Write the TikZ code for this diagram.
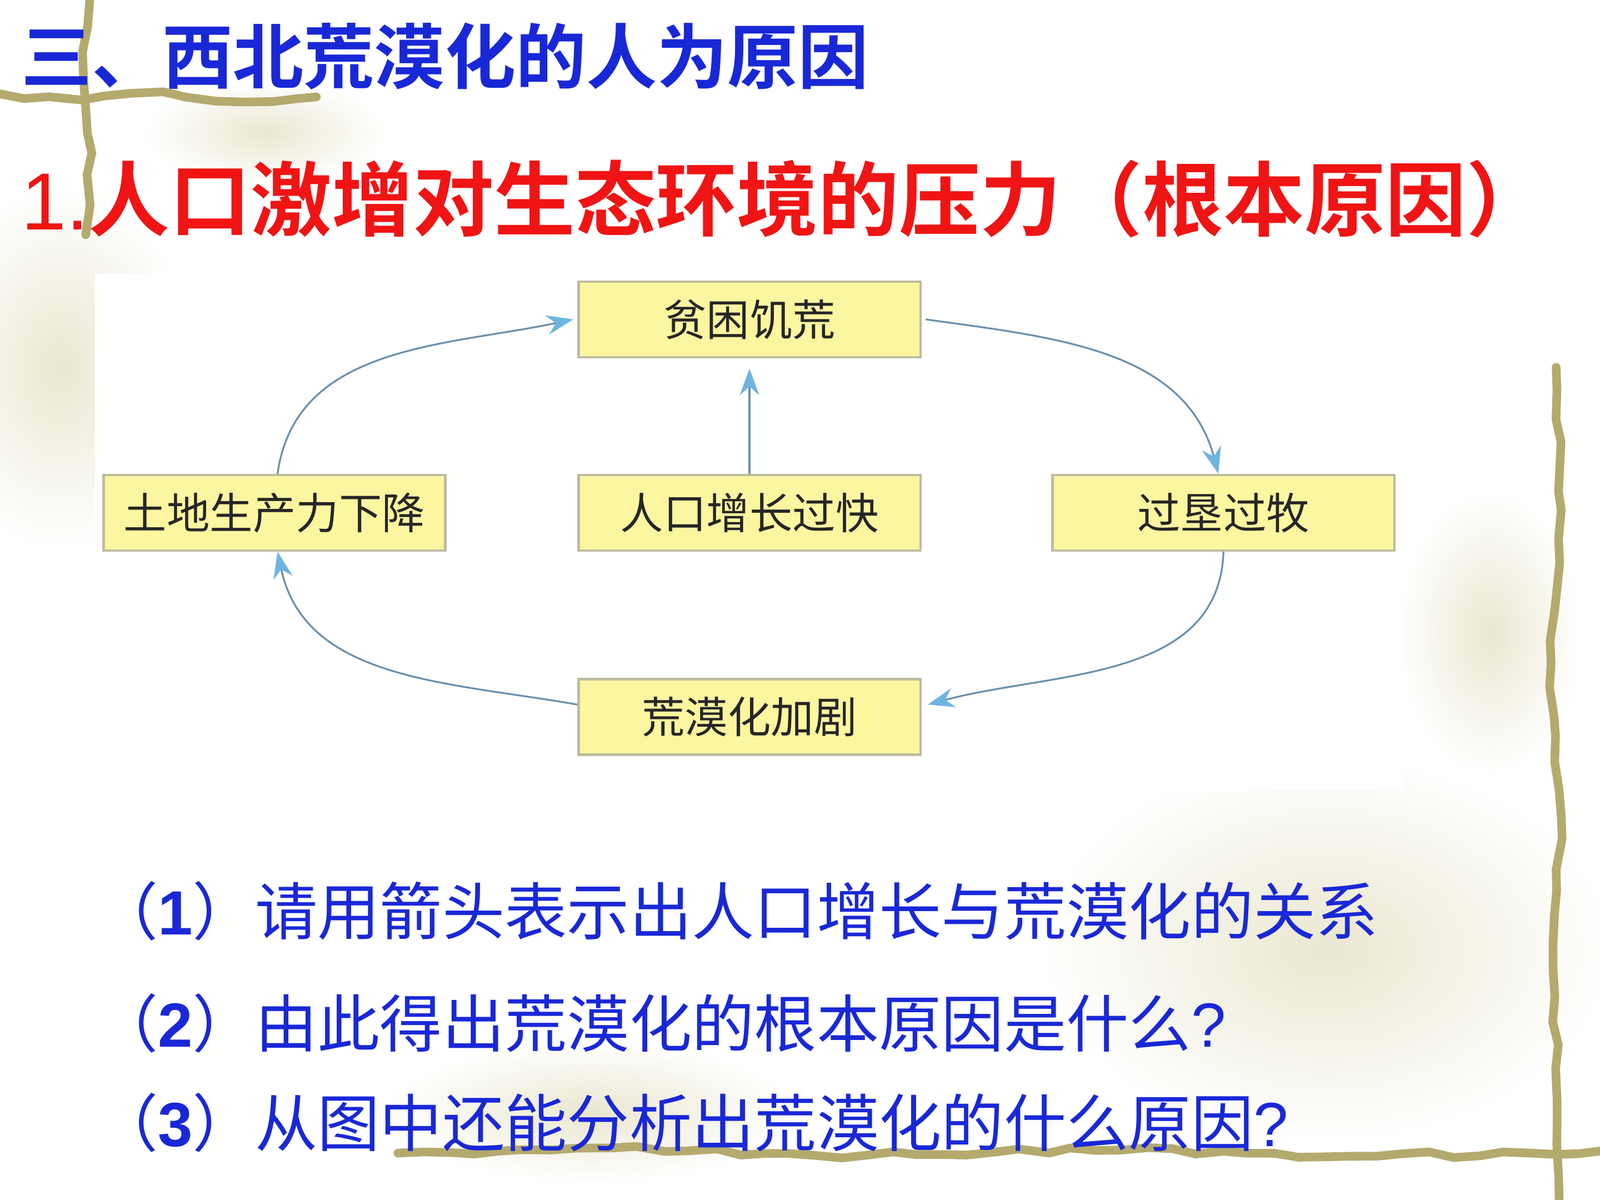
\documentclass[tikz,border=0pt]{standalone}
\usepackage{fontspec}
\setmainfont{Noto Sans CJK SC}[BoldFont={Noto Sans CJK SC Bold}]
\newfontfamily\latinfont{Liberation Sans}
\usetikzlibrary{arrows.meta,decorations.pathmorphing}

\definecolor{titleblue}{RGB}{25,40,215}
\definecolor{titlered}{RGB}{240,20,20}
\definecolor{boxfill}{RGB}{252,246,160}
\definecolor{boxline}{RGB}{190,188,160}
\definecolor{arrowline}{RGB}{105,145,175}
\definecolor{arrowtip}{RGB}{110,180,225}
\definecolor{vine}{RGB}{180,170,110}
\definecolor{haze}{RGB}{234,231,208}

\begin{document}
\begin{tikzpicture}[
    stage/.style={draw=boxline, line width=0.7pt, fill=boxfill, minimum width=3.35cm,
                  minimum height=0.74cm, inner sep=0pt, text=black!85,
                  font=\fontsize{12}{14}\selectfont},
    flow/.style={-{Stealth[length=2.6mm,width=1.9mm,color=arrowtip]}, draw=arrowline,
                 line width=0.5pt},
    heading/.style={anchor=west, inner sep=0pt, font=\bfseries},
    question/.style={anchor=west, inner sep=0pt, text=titleblue,
                     font=\fontsize{17.4}{20}\selectfont},
    vinepath/.style={draw=vine, line width=0.85mm, line cap=round, decorate,
                     decoration={random steps, segment length=2.5mm, amplitude=0.35mm}},
  ]
    % Background -------------------------------------------------------------
    \useasboundingbox (0,0) rectangle (15.68,-11.76);
    \fill[white] (0,0) rectangle (15.68,-11.76);
    \shade[inner color=haze, outer color=white] (0.6,-3.6) ellipse (1.3 and 1.8);
    \shade[inner color=haze, outer color=white] (2.6,-1.3) ellipse (1.2 and 0.5);
    \shade[inner color=haze, outer color=white] (13.0,-9.3) ellipse (2.8 and 1.9);
    \shade[inner color=haze, outer color=white] (14.6,-6.2) ellipse (0.9 and 1.4);
    \shade[inner color=haze, outer color=white] (5.8,-10.9) ellipse (2.0 and 0.7);

    % Vine frame -------------------------------------------------------------
    \draw[vinepath] (0,-0.92) -- (0.8,-0.98) -- (1.6,-0.9) -- (2.4,-1.0) -- (3.1,-0.95);
    \draw[vinepath] (0.88,0) -- (0.82,-0.8) -- (0.9,-1.5) -- (0.84,-2.3);
    \draw[vinepath] (15.25,-3.6) -- (15.3,-5.0) -- (15.2,-6.5) -- (15.3,-8.0)
                    -- (15.22,-9.5) -- (15.28,-11.76);
    \draw[vinepath] (3.9,-11.3) -- (6.0,-11.25) -- (8.5,-11.32) -- (11.0,-11.27)
                    -- (13.5,-11.33) -- (15.68,-11.28);

    % Diagram panel ----------------------------------------------------------
    \fill[white] (0.93,-2.68) rectangle (13.75,-7.75);

    % Titles -----------------------------------------------------------------
    \node[heading, text=titleblue, font=\bfseries\fontsize{19.7}{22}\selectfont]
         (title) at (0.2,-0.55) {三、西北荒漠化的人为原因};
    \node[heading, text=titlered, font=\bfseries\fontsize{22.6}{25}\selectfont]
         (cause) at (0.2,-1.95) {{\latinfont\mdseries 1.}人口激增对生态环境的压力（根本原因）};

    % Stages -----------------------------------------------------------------
    \node[stage] (poverty)    at (7.345,-3.13)  {贫困饥荒};
    \node[stage] (land)       at (2.69,-5.025)  {土地生产力下降};
    \node[stage] (population) at (7.345,-5.025) {人口增长过快};
    \node[stage] (overuse)    at (11.99,-5.025) {过垦过牧};
    \node[stage] (desert)     at (7.345,-7.025) {荒漠化加剧};

    % Arrows -----------------------------------------------------------------
    \draw[flow] ([xshift=0.03cm]land.north) to[out=82, in=192] ([xshift=-0.04cm]poverty.west);
    \draw[flow] ([xshift=0.04cm]poverty.east) to[out=-8, in=105] ([xshift=-0.05cm]overuse.north);
    \draw[flow] (overuse.south) to[out=-92, in=15] ([xshift=0.06cm,yshift=0.12cm]desert.east);
    \draw[flow] ([yshift=0.12cm]desert.west) to[out=170, in=-78] ([xshift=0.03cm]land.south);
    \draw[flow] (population.north) -- ([yshift=-0.1cm]poverty.south);

    % Questions --------------------------------------------------------------
    \node[question] (q1) at (0.93,-8.93)  {（{\latinfont\bfseries 1}）请用箭头表示出人口增长与荒漠化的关系};
    \node[question] (q2) at (0.93,-10.03) {（{\latinfont\bfseries 2}）由此得出荒漠化的根本原因是什么{\latinfont ?}};
    \node[question] (q3) at (0.93,-11.0)  {（{\latinfont\bfseries 3}）从图中还能分析出荒漠化的什么原因{\latinfont ?}};
  \end{tikzpicture}
\end{document}
